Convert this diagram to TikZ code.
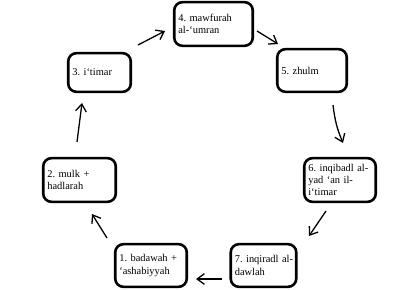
\documentclass[tikz,border=0pt]{standalone}
\usepackage{fontspec}
\setmainfont{Liberation Serif}
\usetikzlibrary{arrows.meta}
\tikzset{
  stage/.style={draw, line width=2.2pt, rounded corners=7pt, align=left,
    inner xsep=3.5pt, inner ysep=2pt, font=\fontsize{8.9}{10.6}\selectfont\frenchspacing},
  arr/.style={-{Straight Barb[length=2.2mm,width=3.2mm]}, line width=1.1pt}
}
\begin{document}
\begin{tikzpicture}
\useasboundingbox (0,0) rectangle (12.54,8.7);

\node[stage, text width=1.90cm, minimum height=1.28cm] (n1) at (4.53,0.735) {1. badawah +\\‘ashabiyyah};
\node[stage, text width=1.93cm, minimum height=1.31cm] (n2) at (2.385,3.3) {2. mulk +\\hadlarah};
\node[stage, text width=1.63cm, minimum height=1.16cm] (n3) at (2.985,6.525) {3. i‘timar};
\node[stage, text width=2.11cm, minimum height=1.31cm] (n4) at (6.405,7.98) {4. mawfurah\\al-‘umran};
\node[stage, text width=1.84cm, minimum height=1.28cm] (n5) at (9.36,6.585) {5. zhulm};
\node[stage, text width=1.90cm, minimum height=1.31cm] (n6) at (10.2,3.3) {\mbox{6. inqibadl al-}\\yad ‘an il-\\i‘timar};
\node[stage, text width=1.72cm, minimum height=1.28cm] (n7) at (7.905,0.735) {\mbox{7. inqiradl al-}\\dawlah};

\draw[arr] ([shift={(1.155,0.825)}]n3.center) -- ([shift={(-1.455,-0.21)}]n4.center);
\draw[arr] ([shift={(1.305,-0.21)}]n4.center) -- ([shift={(-1.02,0.795)}]n5.center);
\draw[arr] ([shift={(0.63,-1.035)}]n5.center) to[bend right=8] ([shift={(0.09,1.11)}]n6.center);
\draw[arr] ([shift={(-0.42,-0.93)}]n6.center) -- ([shift={(1.365,0.885)}]n7.center);
\draw[arr] ([shift={(-1.245,-0.405)}]n7.center) -- ([shift={(1.35,-0.405)}]n1.center);
\draw[arr] ([shift={(-1.32,0.825)}]n1.center) -- ([shift={(0.375,-1.02)}]n2.center);
\draw[arr] ([shift={(-0.075,1.14)}]n2.center) -- ([shift={(-0.525,-0.915)}]n3.center);
\end{tikzpicture}
\end{document}
